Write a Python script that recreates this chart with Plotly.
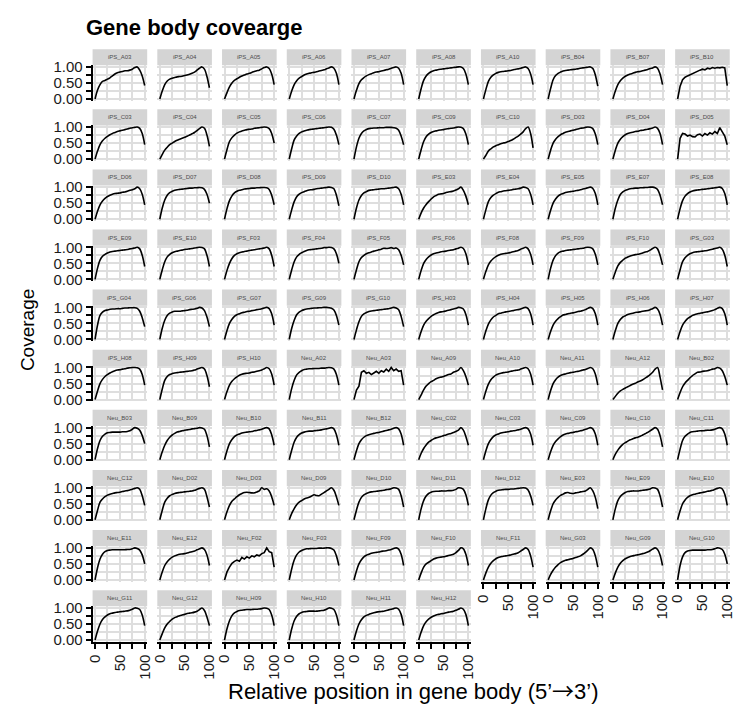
import plotly.graph_objects as go

# Relative position along the gene body (percent, 5' -> 3')
POSITION = list(range(0, 101, 5))

IPS_SAMPLES = [
    "iPS_A03", "iPS_A04", "iPS_A05", "iPS_A06", "iPS_A07", "iPS_A08", "iPS_A10", "iPS_B04", "iPS_B07", "iPS_B10",
    "iPS_C03", "iPS_C04", "iPS_C05", "iPS_C06", "iPS_C07", "iPS_C09", "iPS_C10", "iPS_D03", "iPS_D04", "iPS_D05",
    "iPS_D06", "iPS_D07", "iPS_D08", "iPS_D09", "iPS_D10", "iPS_E03", "iPS_E04", "iPS_E05", "iPS_E07", "iPS_E08",
    "iPS_E09", "iPS_E10", "iPS_F03", "iPS_F04", "iPS_F05", "iPS_F06", "iPS_F08", "iPS_F09", "iPS_F10", "iPS_G03",
    "iPS_G04", "iPS_G06", "iPS_G07", "iPS_G09", "iPS_G10", "iPS_H03", "iPS_H04", "iPS_H05", "iPS_H06", "iPS_H07",
    "iPS_H08", "iPS_H09", "iPS_H10",
]

IPS_COVERAGE = [
    [0, .28, .45, .55, .58, .62, .66, .72, .78, .82, .84, .86, .88, .88, .90, .93, .98, 1.0, .90, .72, .42],
    [0, .25, .45, .56, .62, .65, .67, .69, .70, .71, .73, .75, .77, .80, .84, .90, .96, 1.0, .93, .70, .35],
    [0, .20, .38, .50, .58, .63, .68, .72, .75, .78, .80, .83, .86, .88, .90, .94, .98, 1.0, .95, .78, .45],
    [0, .25, .45, .57, .65, .70, .75, .78, .80, .82, .83, .85, .87, .89, .91, .94, .97, 1.0, .96, .80, .45],
    [0, .27, .48, .60, .67, .72, .76, .79, .82, .84, .85, .87, .89, .91, .93, .96, .98, 1.0, .96, .80, .45],
    [0, .33, .58, .72, .80, .85, .88, .90, .92, .93, .94, .95, .96, .97, .98, .99, 1.0, 1.0, .95, .78, .45],
    [0, .30, .55, .68, .75, .80, .83, .85, .86, .87, .88, .89, .91, .93, .94, .96, .98, 1.0, .95, .78, .45],
    [0, .33, .60, .73, .80, .84, .87, .89, .90, .91, .92, .93, .94, .96, .97, .98, .99, 1.0, .95, .75, .40],
    [0, .25, .45, .57, .65, .71, .75, .78, .80, .83, .85, .86, .88, .90, .92, .95, .97, 1.0, .96, .78, .45],
    [0, .40, .60, .68, .72, .76, .80, .84, .88, .90, .93, .91, .96, .94, .98, .96, .98, .97, .99, .97, .42],
    [0, .25, .45, .57, .65, .71, .76, .80, .83, .86, .88, .90, .92, .94, .96, .98, .99, 1.0, .96, .80, .45],
    [0, .15, .28, .37, .45, .50, .55, .59, .62, .65, .68, .71, .75, .79, .83, .89, .95, 1.0, .96, .75, .40],
    [0, .30, .55, .67, .75, .81, .85, .88, .90, .92, .93, .94, .96, .97, .98, .99, 1.0, .99, .95, .80, .50],
    [0, .33, .60, .72, .80, .85, .88, .90, .92, .93, .94, .95, .96, .97, .98, .99, 1.0, .99, .93, .75, .45],
    [0, .38, .65, .80, .88, .92, .95, .96, .97, .97, .98, .98, .98, .99, .99, .99, .98, .96, .90, .72, .45],
    [0, .30, .55, .70, .78, .83, .86, .88, .90, .91, .92, .94, .95, .96, .97, .99, 1.0, .99, .95, .78, .45],
    [0, .12, .25, .32, .38, .42, .45, .48, .50, .52, .55, .58, .62, .67, .72, .78, .85, .95, 1.0, .80, .35],
    [0, .28, .50, .62, .70, .76, .80, .84, .86, .88, .90, .92, .94, .96, .97, .99, 1.0, .99, .95, .78, .45],
    [0, .28, .50, .62, .70, .76, .80, .82, .84, .86, .87, .89, .90, .92, .93, .95, .97, 1.0, .96, .80, .45],
    [0, .65, .80, .78, .72, .75, .70, .69, .76, .78, .72, .80, .75, .82, .78, .86, .80, .98, .85, .72, .45],
    [0, .25, .45, .57, .65, .71, .75, .78, .80, .81, .82, .84, .85, .87, .90, .92, .95, 1.0, .95, .78, .45],
    [0, .35, .60, .75, .83, .87, .90, .92, .93, .94, .95, .96, .97, .97, .98, .98, .99, .98, .93, .78, .50],
    [0, .33, .58, .73, .82, .87, .90, .92, .94, .95, .96, .97, .97, .98, .98, .99, .99, .98, .93, .75, .45],
    [0, .30, .55, .70, .78, .83, .86, .89, .91, .92, .93, .95, .96, .97, .98, .99, 1.0, .99, .95, .75, .42],
    [0, .35, .60, .74, .82, .86, .90, .91, .92, .93, .94, .95, .95, .96, .97, .98, .99, 1.0, .95, .78, .45],
    [0, .20, .35, .46, .55, .63, .70, .74, .78, .79, .80, .83, .85, .86, .88, .91, .95, 1.0, .90, .72, .45],
    [0, .30, .55, .68, .75, .80, .84, .86, .88, .89, .90, .91, .93, .94, .95, .97, 1.0, .99, .95, .78, .45],
    [0, .28, .50, .63, .72, .77, .80, .83, .85, .86, .87, .89, .90, .92, .94, .96, .98, 1.0, .96, .80, .45],
    [0, .35, .60, .77, .85, .90, .93, .95, .96, .97, .97, .98, .98, .99, .99, 1.0, 1.0, .98, .93, .75, .45],
    [0, .33, .58, .72, .80, .85, .88, .90, .91, .92, .93, .94, .95, .96, .97, .98, .99, 1.0, .96, .80, .45],
    [0, .35, .60, .72, .78, .82, .85, .87, .88, .89, .90, .91, .92, .93, .95, .96, .98, 1.0, .95, .75, .40],
    [0, .30, .55, .70, .78, .83, .86, .88, .90, .91, .93, .94, .95, .96, .98, .99, 1.0, .99, .95, .75, .40],
    [0, .28, .50, .65, .75, .80, .83, .85, .87, .88, .90, .91, .92, .94, .95, .96, .98, 1.0, .95, .75, .40],
    [0, .30, .55, .70, .78, .83, .87, .90, .92, .93, .94, .95, .96, .97, .99, .99, 1.0, .99, .95, .80, .50],
    [0, .30, .55, .68, .75, .80, .83, .85, .88, .90, .92, .94, .97, .96, .97, .99, .96, .98, .92, .75, .45],
    [0, .28, .50, .62, .70, .76, .80, .82, .84, .86, .87, .88, .90, .91, .92, .95, .97, 1.0, .96, .80, .45],
    [0, .25, .45, .57, .65, .71, .75, .78, .80, .81, .82, .84, .86, .88, .90, .94, .97, 1.0, .95, .78, .45],
    [0, .35, .60, .74, .82, .86, .88, .90, .91, .92, .93, .94, .95, .96, .97, .99, 1.0, .99, .95, .78, .45],
    [0, .23, .42, .53, .60, .66, .70, .73, .75, .77, .78, .80, .82, .85, .87, .91, .96, 1.0, .95, .75, .45],
    [0, .30, .55, .67, .75, .80, .83, .85, .86, .87, .88, .89, .90, .92, .94, .96, .98, 1.0, .94, .75, .40],
    [0, .45, .75, .85, .90, .92, .94, .95, .95, .96, .96, .97, .98, .98, .99, .99, .99, .97, .88, .68, .40],
    [0, .35, .60, .75, .82, .86, .88, .88, .88, .89, .90, .91, .93, .94, .95, .97, 1.0, .98, .90, .70, .40],
    [0, .28, .50, .63, .72, .77, .80, .83, .85, .87, .88, .90, .91, .93, .94, .96, .98, 1.0, .96, .80, .45],
    [0, .35, .60, .77, .85, .90, .93, .95, .96, .97, .98, .98, .99, .99, 1.0, 1.0, .99, .97, .92, .75, .45],
    [0, .30, .55, .72, .80, .84, .87, .89, .90, .91, .92, .93, .94, .95, .96, .98, 1.0, .98, .93, .72, .40],
    [0, .25, .45, .57, .65, .72, .77, .81, .84, .86, .87, .89, .91, .93, .95, .97, 1.0, .99, .95, .78, .45],
    [0, .27, .48, .61, .70, .75, .80, .82, .84, .86, .87, .89, .90, .92, .93, .95, .98, 1.0, .96, .80, .45],
    [0, .25, .45, .57, .65, .71, .76, .78, .80, .82, .83, .85, .87, .88, .90, .93, .97, 1.0, .96, .80, .45],
    [0, .28, .50, .62, .70, .74, .78, .80, .82, .84, .85, .86, .88, .89, .90, .93, .96, 1.0, .95, .78, .45],
    [0, .25, .45, .56, .65, .70, .75, .78, .80, .82, .83, .85, .86, .88, .90, .93, .97, 1.0, .96, .80, .45],
    [0, .27, .50, .63, .72, .78, .83, .87, .90, .92, .93, .95, .96, .98, .99, 1.0, 1.0, .99, .95, .78, .45],
    [0, .33, .60, .72, .78, .81, .83, .84, .85, .86, .87, .88, .89, .90, .92, .95, .98, 1.0, .95, .75, .40],
    [0, .25, .45, .57, .65, .71, .76, .79, .81, .82, .83, .85, .86, .88, .90, .92, .96, 1.0, .96, .80, .45],
]

NEU_SAMPLES = [
    "Neu_A02", "Neu_A03", "Neu_A09", "Neu_A10", "Neu_A11", "Neu_A12", "Neu_B02",
    "Neu_B03", "Neu_B09", "Neu_B10", "Neu_B11", "Neu_B12", "Neu_C02", "Neu_C03", "Neu_C09", "Neu_C10", "Neu_C11",
    "Neu_C12", "Neu_D02", "Neu_D03", "Neu_D09", "Neu_D10", "Neu_D11", "Neu_D12", "Neu_E03", "Neu_E09", "Neu_E10",
    "Neu_E11", "Neu_E12", "Neu_F02", "Neu_F03", "Neu_F09", "Neu_F10", "Neu_F11", "Neu_G03", "Neu_G09", "Neu_G10",
    "Neu_G11", "Neu_G12", "Neu_H09", "Neu_H10", "Neu_H11", "Neu_H12",
]

NEU_COVERAGE = [
    [0, .35, .60, .77, .85, .90, .94, .95, .96, .96, .97, .97, .97, .98, .98, .99, 1.0, .99, .95, .78, .45],
    [0, .30, .42, .85, .90, .82, .85, .78, .83, .88, .82, .90, .86, .95, .88, 1.0, .90, .95, .88, .90, .45],
    [0, .15, .30, .42, .50, .56, .60, .65, .68, .70, .72, .75, .78, .80, .85, .88, .92, 1.0, .90, .72, .45],
    [0, .27, .48, .62, .70, .76, .80, .82, .84, .85, .86, .88, .90, .91, .92, .95, .98, 1.0, .96, .80, .45],
    [0, .28, .50, .62, .70, .75, .78, .80, .82, .84, .85, .87, .88, .90, .92, .94, .97, 1.0, .96, .80, .45],
    [0, .10, .20, .27, .32, .36, .40, .44, .48, .51, .55, .58, .62, .67, .72, .78, .85, .95, 1.0, .70, .30],
    [0, .22, .40, .52, .60, .68, .75, .80, .85, .86, .88, .89, .90, .92, .95, .96, 1.0, .98, .90, .72, .45],
    [0, .35, .60, .73, .80, .84, .85, .86, .86, .86, .86, .87, .87, .88, .90, .95, 1.0, .98, .92, .75, .50],
    [0, .25, .45, .60, .70, .77, .82, .86, .88, .90, .92, .93, .94, .96, .97, .98, 1.0, .99, .95, .75, .40],
    [0, .28, .50, .63, .72, .77, .80, .83, .85, .86, .87, .88, .90, .91, .93, .95, .98, 1.0, .96, .78, .45],
    [0, .30, .55, .70, .78, .83, .86, .88, .89, .89, .90, .91, .92, .93, .95, .96, .98, 1.0, .96, .78, .45],
    [0, .28, .50, .62, .70, .75, .78, .80, .82, .84, .85, .87, .89, .91, .93, .95, .98, 1.0, .96, .80, .45],
    [0, .20, .35, .46, .55, .60, .65, .68, .70, .72, .75, .77, .80, .82, .85, .88, .92, 1.0, .92, .72, .45],
    [0, .28, .50, .63, .72, .77, .80, .83, .85, .86, .87, .89, .90, .91, .93, .95, .98, 1.0, .96, .80, .45],
    [0, .25, .45, .57, .65, .72, .77, .80, .82, .84, .85, .87, .88, .90, .92, .95, .97, 1.0, .96, .80, .45],
    [0, .17, .30, .40, .48, .53, .58, .62, .65, .68, .70, .73, .77, .81, .85, .90, .95, 1.0, .95, .75, .40],
    [0, .33, .60, .73, .80, .85, .87, .88, .89, .90, .90, .91, .92, .92, .93, .95, .98, 1.0, .96, .80, .45],
    [0, .30, .55, .65, .72, .77, .80, .82, .84, .85, .86, .88, .90, .91, .93, .95, .98, 1.0, .95, .75, .45],
    [0, .30, .55, .67, .75, .79, .82, .84, .85, .86, .87, .88, .89, .90, .92, .95, .98, 1.0, .95, .72, .40],
    [0, .25, .45, .58, .65, .72, .78, .82, .85, .86, .85, .84, .84, .87, .90, 1.0, .95, .97, .90, .72, .45],
    [0, .20, .35, .47, .55, .60, .65, .68, .70, .74, .78, .76, .75, .80, .85, .90, .95, 1.0, .92, .72, .45],
    [0, .30, .55, .70, .78, .82, .85, .87, .88, .89, .90, .91, .92, .94, .95, .97, 1.0, .99, .95, .75, .40],
    [0, .35, .60, .74, .82, .86, .88, .89, .89, .90, .90, .90, .91, .91, .92, .95, 1.0, .99, .95, .78, .45],
    [0, .35, .62, .77, .85, .89, .92, .93, .94, .95, .95, .96, .96, .97, .98, .99, 1.0, .99, .93, .75, .45],
    [0, .28, .50, .62, .70, .76, .80, .84, .85, .83, .82, .84, .85, .87, .88, .90, .95, 1.0, .90, .70, .35],
    [0, .35, .60, .73, .80, .85, .88, .89, .90, .90, .90, .91, .92, .93, .94, .96, 1.0, .99, .95, .75, .40],
    [0, .28, .50, .62, .70, .75, .78, .80, .82, .84, .85, .87, .89, .90, .92, .95, .98, 1.0, .96, .80, .45],
    [0, .38, .65, .80, .88, .92, .93, .94, .94, .94, .94, .94, .94, .95, .95, .97, 1.0, .98, .93, .78, .50],
    [0, .25, .45, .57, .65, .71, .75, .78, .80, .81, .82, .84, .86, .88, .90, .94, .97, 1.0, .95, .78, .45],
    [0, .25, .40, .52, .58, .62, .58, .70, .65, .72, .68, .75, .72, .78, .75, .82, .85, 1.0, .88, .85, .40],
    [0, .35, .62, .78, .87, .92, .95, .97, .97, .98, .98, .98, .99, .99, .99, 1.0, 1.0, .98, .93, .75, .45],
    [0, .28, .50, .63, .72, .77, .80, .83, .85, .86, .87, .89, .90, .91, .93, .95, .98, 1.0, .96, .80, .45],
    [0, .22, .40, .50, .55, .60, .65, .68, .70, .71, .72, .74, .76, .78, .80, .85, .92, 1.0, .97, .80, .45],
    [0, .22, .40, .52, .60, .66, .70, .72, .74, .75, .76, .78, .80, .82, .85, .90, .95, 1.0, .95, .75, .40],
    [0, .17, .30, .40, .48, .54, .58, .61, .63, .65, .67, .70, .72, .75, .80, .86, .93, 1.0, .95, .75, .40],
    [0, .22, .40, .52, .60, .66, .70, .73, .75, .77, .78, .80, .82, .84, .87, .91, .96, 1.0, .95, .78, .45],
    [0, .45, .72, .85, .90, .92, .93, .93, .93, .93, .93, .93, .94, .94, .95, .97, 1.0, .99, .95, .80, .50],
    [0, .28, .50, .64, .72, .78, .82, .84, .86, .87, .88, .89, .90, .91, .93, .96, 1.0, .99, .95, .78, .45],
    [0, .20, .38, .50, .58, .65, .70, .73, .76, .78, .80, .83, .84, .85, .87, .90, .95, 1.0, .92, .72, .45],
    [0, .35, .60, .76, .85, .89, .92, .93, .94, .95, .95, .95, .96, .96, .97, .98, 1.0, .99, .95, .78, .45],
    [0, .35, .60, .74, .82, .86, .88, .89, .90, .90, .90, .90, .91, .92, .93, .96, 1.0, .99, .95, .78, .45],
    [0, .28, .50, .63, .72, .77, .80, .83, .85, .87, .88, .89, .90, .92, .94, .96, .98, 1.0, .96, .80, .45],
    [0, .25, .45, .57, .65, .71, .75, .78, .80, .82, .83, .85, .87, .88, .90, .93, .96, 1.0, .96, .80, .45],
]

# Low-depth libraries drawn without smoothing so their noise stays visible
NOISY_SAMPLES = ["iPS_B10", "iPS_D05", "Neu_A03", "Neu_F02"]

X_TICKS = [0, 25, 50, 75, 100]
X_TICK_TEXT = ["0", "", "50", "", "100"]
Y_TICKS = [0, 0.25, 0.5, 0.75, 1.0]
Y_TICK_TEXT = ["0.00", "", "0.50", "", "1.00"]

TITLE = "Gene body covearge"
X_TITLE = ("Relative position in gene body (5\u2019"
           "<span style=\"font-family:'Noto Sans CJK SC'\">\u2192</span>3\u2019)")
Y_TITLE = "Coverage"

# ---- facet grid geometry (pixels) ----
W, H = 737, 707
N_COLS = 10
LEFT, COL_STEP, PANEL_W = 87.0, 65.8, 55.5
TOP, ROW_STEP = 43.0, 61.33
STRIP_H, PANEL_H = 16.5, 52.5
FONT = "Liberation Sans, Arial, Helvetica, sans-serif"
TICK_FONT = dict(size=15, family=FONT, color="#1a1a1a")

samples = IPS_SAMPLES + NEU_SAMPLES
coverage = IPS_COVERAGE + NEU_COVERAGE
n = len(samples)


def px(x):
    return x / W


def py(y):
    return 1 - y / H


fig = go.Figure()
layout = dict(
    width=W, height=H,
    margin=dict(l=0, r=0, t=0, b=0),
    paper_bgcolor="white", plot_bgcolor="white",
    showlegend=False,
    font=dict(family=FONT, color="#1a1a1a"),
)
shapes, annotations = [], []

for i, (name, vals) in enumerate(zip(samples, coverage)):
    r, c = divmod(i, N_COLS)
    k = "" if i == 0 else str(i + 1)
    x0 = LEFT + c * COL_STEP
    x1 = x0 + PANEL_W
    s_top = TOP + r * ROW_STEP
    p_top = s_top + STRIP_H
    p_bot = s_top + PANEL_H

    # last panel in this column gets the x axis
    bottom = (i + N_COLS) >= n
    first_col = c == 0

    noisy = name in NOISY_SAMPLES
    fig.add_trace(go.Scatter(
        x=POSITION, y=vals, mode="lines",
        line=dict(color="black", width=1.6,
                  shape="linear" if noisy else "spline",
                  smoothing=0 if noisy else 0.9),
        xaxis="x" + k, yaxis="y" + k, hoverinfo="skip",
    ))

    layout["xaxis" + k] = dict(
        domain=[px(x0), px(x1)], anchor="y" + k, range=[-5, 105],
        tickvals=X_TICKS, ticktext=X_TICK_TEXT,
        showgrid=True, gridcolor="#DEDEDE", gridwidth=2, zeroline=False,
        showline=bottom, linecolor="black", linewidth=2,
        ticks="outside" if bottom else "", ticklen=5, tickwidth=2, tickcolor="black",
        showticklabels=bottom, tickangle=-90, tickfont=TICK_FONT,
        fixedrange=True,
    )
    layout["yaxis" + k] = dict(
        domain=[py(p_bot), py(p_top)], anchor="x" + k, range=[-0.05, 1.05],
        tickvals=Y_TICKS, ticktext=Y_TICK_TEXT,
        showgrid=True, gridcolor="#DEDEDE", gridwidth=2, zeroline=False,
        showline=first_col, linecolor="black", linewidth=2,
        ticks="outside" if first_col else "", ticklen=5, tickwidth=2, tickcolor="black",
        showticklabels=first_col, tickfont=TICK_FONT,
        fixedrange=True,
    )

    # facet strip
    shapes.append(dict(
        type="rect", xref="paper", yref="paper",
        x0=px(x0), x1=px(x1), y0=py(p_top), y1=py(s_top),
        fillcolor="#D4D4D4", line=dict(width=0), layer="below",
    ))
    annotations.append(dict(
        text=name, xref="paper", yref="paper",
        x=px((x0 + x1) / 2), y=py(s_top + STRIP_H / 2),
        xanchor="center", yanchor="middle", showarrow=False,
        font=dict(size=6, color="#4d4d4d", family=FONT),
    ))

annotations.append(dict(
    text="<b>" + TITLE + "</b>", xref="paper", yref="paper",
    x=px(79), y=py(21), xanchor="left", yanchor="middle", showarrow=False,
    borderpad=0, font=dict(size=22, color="black", family=FONT),
))
annotations.append(dict(
    text=X_TITLE, xref="paper", yref="paper",
    x=px(413), y=py(696), xanchor="center", yanchor="middle", showarrow=False,
    font=dict(size=22, color="black", family=FONT),
))
annotations.append(dict(
    text=Y_TITLE, xref="paper", yref="paper",
    x=px(21), y=py(330), xanchor="center", yanchor="middle", showarrow=False,
    textangle=-90, font=dict(size=19, color="black", family=FONT),
))

layout["shapes"] = shapes
layout["annotations"] = annotations
fig.update_layout(**layout)
fig.write_html("out.html")
